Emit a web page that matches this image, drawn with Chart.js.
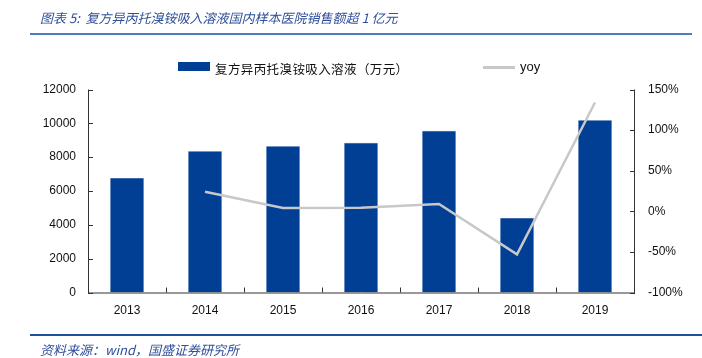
<!DOCTYPE html>
<html>
<head>
<meta charset="utf-8">
<script src="https://cdn.jsdelivr.net/npm/chart.js@4.4.1/dist/chart.umd.min.js"></script>
<style>
  html, body { margin: 0; padding: 0; background: #fff; }
  body { width: 702px; height: 358px; position: relative; overflow: hidden; }
  #c { position: absolute; left: 0; top: 0; }
  .t { position: absolute; white-space: nowrap; }
  #title { left: 40px; top: 8px; font: italic 13px "Noto Sans CJK SC", sans-serif; color: #2f4f9a; }
  #tline { position: absolute; left: 30px; top: 33px; width: 662px; height: 2px; background: #4f7cbd; }
  #bline { position: absolute; left: 30px; top: 334px; width: 672px; height: 1.5px; background: #1f4f9f; }
  #src { left: 40px; top: 340px; font: italic 13px "Noto Sans CJK SC", sans-serif; color: #2f4f9a; }
  #lg1box { position: absolute; left: 178px; top: 62px; width: 32px; height: 9px; background: #003f93; }
  #lg1 { left: 215px; top: 59px; font: 12.5px "Noto Sans CJK SC", sans-serif; color: #111; letter-spacing: 0.4px; }
  #lg2line { position: absolute; left: 483px; top: 66px; width: 32px; height: 3px; background: #c8c8c8; }
  #lg2 { left: 520px; top: 59px; font: 13px "Liberation Sans", sans-serif; color: #111; }
</style>
</head>
<body>
<canvas id="c" width="702" height="358"></canvas>
<div class="t" id="title">图表 5:&nbsp; 复方异丙托溴铵吸入溶液国内样本医院销售额超 1 亿元</div>
<div id="tline"></div>
<div id="lg1box"></div>
<div class="t" id="lg1">复方异丙托溴铵吸入溶液（万元）</div>
<div id="lg2line"></div>
<div class="t" id="lg2">yoy</div>
<div id="bline"></div>
<div class="t" id="src">资料来源：wind，国盛证券研究所</div>
<script>
const categories = ["2013", "2014", "2015", "2016", "2017", "2018", "2019"];
const salesValues = [6790, 8370, 8660, 8860, 9570, 4420, 10200];
const yoyValues = [null, 24, 4, 4.5, 9, -53, 134];
const leftTicks = [0, 2000, 4000, 6000, 8000, 10000, 12000];
const rightTicks = [-100, -50, 0, 50, 100, 150];

const axisColor = "#333";
const tickFont = { family: "Liberation Sans", size: 12 };

const innerTicks = {
  id: "innerTicks",
  afterDraw(chart) {
    const ctx = chart.ctx;
    const a = chart.chartArea;
    const x = chart.scales.x, y = chart.scales.y, y1 = chart.scales.y1;
    ctx.save();
    ctx.strokeStyle = axisColor;
    ctx.lineWidth = 1;
    ctx.beginPath();
    ctx.moveTo(a.left + 0.5, a.top); ctx.lineTo(a.left + 0.5, a.bottom + 0.5);
    ctx.lineTo(a.right + 0.5, a.bottom + 0.5);
    ctx.moveTo(a.right + 0.5, a.top); ctx.lineTo(a.right + 0.5, a.bottom + 0.5);
    y.ticks.forEach((t, i) => {
      const p = Math.round(y.getPixelForTick(i)) + 0.5;
      ctx.moveTo(a.left, p); ctx.lineTo(a.left + 5, p);
    });
    y1.ticks.forEach((t, i) => {
      const p = Math.round(y1.getPixelForTick(i)) + 0.5;
      ctx.moveTo(a.right - 4, p); ctx.lineTo(a.right + 1, p);
    });
    for (let i = 1; i < categories.length; i++) {
      const p = Math.round((x.getPixelForValue(i - 1) + x.getPixelForValue(i)) / 2) + 0.5;
      ctx.moveTo(p, a.bottom); ctx.lineTo(p, a.bottom - 5);
    }
    ctx.stroke();
    ctx.restore();
  }
};

new Chart(document.getElementById("c"), {
  data: {
    labels: categories,
    datasets: [
      {
        type: "line",
        label: "yoy",
        data: yoyValues,
        yAxisID: "y1",
        borderColor: "#c8c8c8",
        borderWidth: 2.5,
        pointRadius: 0,
        tension: 0,
        spanGaps: false,
        order: 0
      },
      {
        type: "bar",
        label: "复方异丙托溴铵吸入溶液（万元）",
        data: salesValues,
        yAxisID: "y",
        backgroundColor: "#003f93",
        borderColor: "rgba(190,205,230,0.7)",
        borderWidth: 0.6,
        barPercentage: 0.44,
        categoryPercentage: 1.0,
        order: 1
      }
    ]
  },
  options: {
    responsive: false,
    animation: false,
    devicePixelRatio: 1,
    layout: { padding: { top: 89.5, left: 0, right: 0, bottom: 0 } },
    plugins: { legend: { display: false }, tooltip: { enabled: false } },
    scales: {
      x: {
        offset: true,
        grid: { display: false, drawTicks: false },
        border: { display: false },
        ticks: { color: "#111", font: tickFont, padding: 11, maxRotation: 0 },
        afterFit(s) { s.height = 65.5; }
      },
      y: {
        position: "left",
        min: 0, max: 12000,
        afterBuildTicks(s) { s.ticks = leftTicks.map(v => ({ value: v })); },
        grid: { display: false, drawTicks: false },
        border: { display: false },
        ticks: { color: "#111", font: tickFont, padding: 12, callback: v => String(v) },
        afterFit(s) { s.width = 88; }
      },
      y1: {
        position: "right",
        min: -100, max: 150,
        afterBuildTicks(s) { s.ticks = rightTicks.map(v => ({ value: v })); },
        grid: { display: false, drawTicks: false },
        border: { display: false },
        ticks: { color: "#111", font: tickFont, padding: 14, callback: v => v + "%" },
        afterFit(s) { s.width = 68; }
      }
    }
  },
  plugins: [innerTicks]
});
</script>
</body>
</html>
